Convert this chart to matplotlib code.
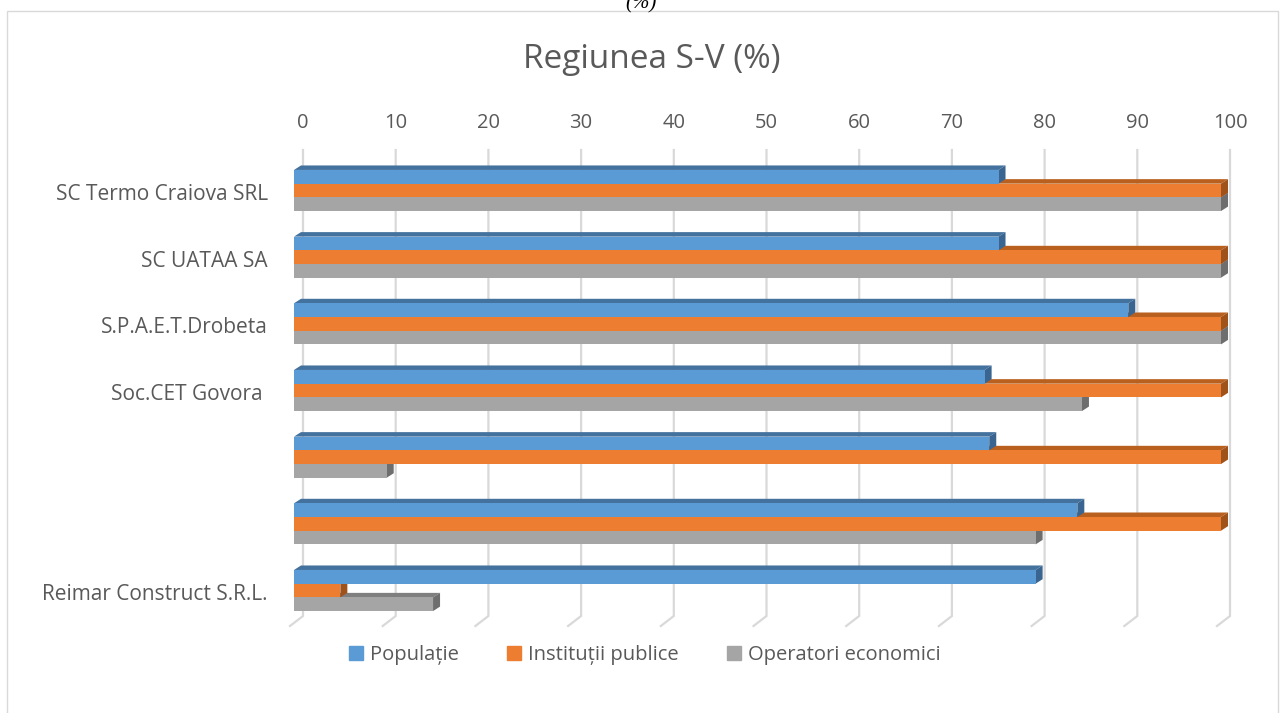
import numpy as np
import matplotlib.pyplot as plt
from matplotlib.patches import Polygon, Rectangle

plt.rcParams['font.family'] = ['Open Sans', 'DejaVu Sans']

categories = ["SC Termo Craiova SRL", "SC UATAA SA", "S.P.A.E.T.Drobeta",
              "Soc.CET Govora ", "", "", "Reimar Construct S.R.L."]
populatie = [76, 76, 90, 74.5, 75, 84.5, 80]
institutii = [100, 100, 100, 100, 100, 100, 5]
operatori = [100, 100, 100, 85, 10, 80, 15]
series_names = ["Populație", "Instituții publice", "Operatori economici"]
ticks = np.arange(0, 101, 10)

W, H = 1281, 713
fig = plt.figure(figsize=(W / 100, H / 100), dpi=100)

# front face: value 0 at px 294, 100 at px 1221; rows every 66.7 px
x0, x1 = 294, 1221
ux = 100 / (x1 - x0)
row_px = 66.67
yc0 = 190.5
top_px, bot_px = 140, 640
ax = fig.add_axes([x0 / W, 1 - bot_px / H, (x1 - x0) / W, (bot_px - top_px) / H])
ax.set_xlim(0, 100)
ax.set_ylim((bot_px - yc0) / row_px, (top_px - yc0) / row_px)
ax.axis('off')


def py(p):
    return (p - yc0) / row_px


txt = '#595959'
# back wall gridlines + floor
for t in ticks:
    xb = t + 9 * ux
    ax.plot([xb, xb, xb - 13 * ux], [py(150), py(616), py(626)], color='#d9d9d9',
            lw=1.6, clip_on=False, zorder=1, solid_joinstyle='miter')
    ax.text(xb, py(123), str(t), ha='center', va='center', fontsize=14.5, color=txt)

h = 13.7 / row_px
dx, dy = 7 * ux, 4.5 / row_px
y = np.arange(len(categories))
series = [
    (operatori, '#a5a5a5', '#7f7f7f', '#6e6e6e', h, 2),
    (institutii, '#ed7d31', '#b9601f', '#a0521b', 0, 4),
    (populatie, '#5b9bd5', '#44729f', '#3a6590', -h, 6),
]
for vals, front, topc, sidec, off, z in series:
    for i, v in enumerate(vals):
        yt = y[i] + off - h / 2
        yb = y[i] + off + h / 2
        ax.add_patch(Polygon([(0, yt), (v, yt), (v + dx, yt - dy), (dx, yt - dy)],
                             closed=True, color=topc, lw=0, zorder=z, clip_on=False))
        ax.add_patch(Polygon([(v, yt), (v + dx, yt - dy), (v + dx, yb - dy), (v, yb)],
                             closed=True, color=sidec, lw=0, zorder=z, clip_on=False))
    ax.barh(y + off, vals, height=h, color=front, zorder=z + 1, clip_on=False)

for i, c in enumerate(categories):
    ax.text(-26 * ux, y[i] + 0.06, c, ha='right', va='center', fontsize=15, color=txt)

fig.text(652 / W, 1 - 60 / H, "Regiunea S-V (%)", fontsize=24, color=txt,
         ha='center', va='center')
fig.text(641 / W, 1 - 8 / H, "(%)", fontsize=15, style='italic', color='black',
         family='Liberation Serif', ha='center', va='baseline')

handles = [Rectangle((0, 0), 1, 1, color=c) for c in ['#5b9bd5', '#ed7d31', '#a5a5a5']]
fig.legend(handles, series_names, loc='center', bbox_to_anchor=(645 / W, 1 - 655 / H),
           ncol=3, frameon=False, fontsize=14.5, handlelength=0.7, handleheight=0.7,
           handletextpad=0.35, columnspacing=2.4, labelcolor=txt)

fig.add_artist(Rectangle((7 / W, -0.05), (1278 - 7) / W, 1.05 - 11 / H,
                         transform=fig.transFigure, fill=False, edgecolor='#d9d9d9', lw=1))

fig.savefig('out.png', dpi=100)
